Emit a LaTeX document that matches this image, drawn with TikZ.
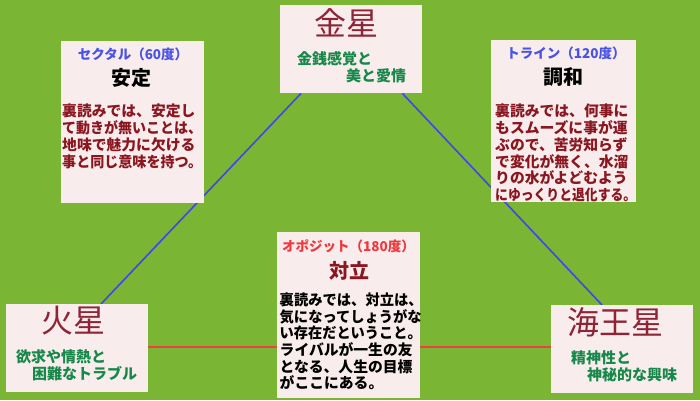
\documentclass[tikz,border=0pt]{standalone}
\usepackage{fontspec}
\usepackage{graphicx}
\newfontfamily\jp{Noto Sans CJK JP}
\usetikzlibrary{calc}
\definecolor{bggreen}{HTML}{7AB534}
\definecolor{boxpink}{HTML}{F8ECEC}
\definecolor{titlered}{HTML}{8E2436}
\definecolor{kgreen}{HTML}{17884A}
\definecolor{headblue}{HTML}{4A52E6}
\definecolor{headred}{HTML}{F0383C}
\definecolor{bodyred}{HTML}{8A1620}
\definecolor{lineblue}{HTML}{4444EE}
\definecolor{linered}{HTML}{EE4242}
\pgfdeclarelayer{bottom}
\pgfdeclarelayer{wires}
\pgfsetlayers{bottom,wires,main}
\newcommand\sqz[2]{\resizebox{#1}{\height}{#2}}
\begin{document}
\begin{tikzpicture}[x=1pt,y=-1pt,
  box/.style={fill=boxpink,draw=none,inner sep=0,anchor=north west},
  title/.style={font=\jp\fontsize{32}{32}\selectfont,text=titlered,inner sep=0},
  greentxt/.style={font=\jp\bfseries\fontsize{15}{15}\selectfont,text=kgreen,anchor=west,inner sep=0},
  head/.style={font=\jp\bfseries\fontsize{13.5}{13.5}\selectfont,inner sep=0},
  sub/.style={font=\jp\bfseries\fontsize{20}{20}\selectfont,text=black,inner sep=0},
  body/.style={font=\jp\bfseries\fontsize{14.8}{16.7}\selectfont,align=left,anchor=north west,inner sep=0},
  blueline/.style={draw=lineblue,line width=1.6pt},
  redline/.style={draw=linered,line width=1.8pt}]
\useasboundingbox (0,0) rectangle (700,400);
\begin{pgfonlayer}{bottom}
\fill[bggreen] (0,0) rectangle (700,400);
\end{pgfonlayer}
% boxes
\node[box,minimum width=142pt,minimum height=88pt] (venus) at (280,5) {};
\node[box,minimum width=143pt,minimum height=162pt] (sextile) at (61,41) {};
\node[box,minimum width=145pt,minimum height=162pt] (trine) at (491,40) {};
\node[box,minimum width=143pt,minimum height=166pt] (opp) at (277,232) {};
\node[box,minimum width=142pt,minimum height=88pt] (mars) at (6,304) {};
\node[box,minimum width=142pt,minimum height=88pt] (nep) at (551,305) {};
% connectors
\begin{pgfonlayer}{wires}
\draw[blueline] ($(venus.south west)+(21,0)$) -- ($(mars.north west)+(95,0)$);
\draw[blueline] ($(venus.south east)+(-20,0)$) -- ($(nep.north west)+(51,0)$);
\draw[redline] ($(mars.east)+(0,-1)$) -- ($(mars.east -| nep.west)+(0,-1)$);
\end{pgfonlayer}
% Venus
\node[title] (venusT) at (346,22.5) {金星};
\node[greentxt] (venusA) at (297,58.5) {金銭感覚と};
\node[greentxt] (venusB) at (346,75.5) {美と愛情};
% Sextile
\node[head,text=headblue] (sextH) at (133,54.5) {セクタル（60度）};
\node[sub] (sextS) at (131,78) {安定};
\node[body,text=bodyred] (sextB) at (62,104) {裏読みでは、安定し\\\sqz{140pt}{て動きが無いことは、}\\地味で魅力に欠ける\\\sqz{140pt}{事と同じ意味を持つ。}};
% Trine
\node[head,text=headblue] (trineH) at (566,53) {トライン（120度）};
\node[sub] (trineS) at (563,77) {調和};
\node[body,text=bodyred] (trineB) at (495,104) {裏読みでは、何事に\\もスムーズに事が運\\ぶので、苦労知らず\\で変化が無く、水溜\\りの水がよどむよう\\\sqz{141pt}{にゆっくりと退化する。}};
% Opposition
\node[head,text=headred] (oppH) at (348.5,246.5) {オポジット（180度）};
\node[sub,text=bodyred] (oppS) at (349,270.5) {対立};
\node[body,text=black] (oppB) at (279.5,292.5) {\sqz{143pt}{裏読みでは、対立は、}\\\sqz{142pt}{気になってしょうがな}\\\sqz{142pt}{い存在だということ。}\\ライバルが一生の友\\となる、人生の目標\\がここにある。};
% Mars
\node[title] (marsT) at (73,321) {火星};
\node[greentxt] (marsA) at (16,356.5) {欲求や情熱と};
\node[greentxt] (marsB) at (32,373.5) {困難なトラブル};
% Neptune
\node[title] (nepT) at (615.5,322.5) {海王星};
\node[greentxt] (nepA) at (571,357.5) {精神性と};
\node[greentxt] (nepB) at (587,374.5) {神秘的な興味};
\end{tikzpicture}
\end{document}
